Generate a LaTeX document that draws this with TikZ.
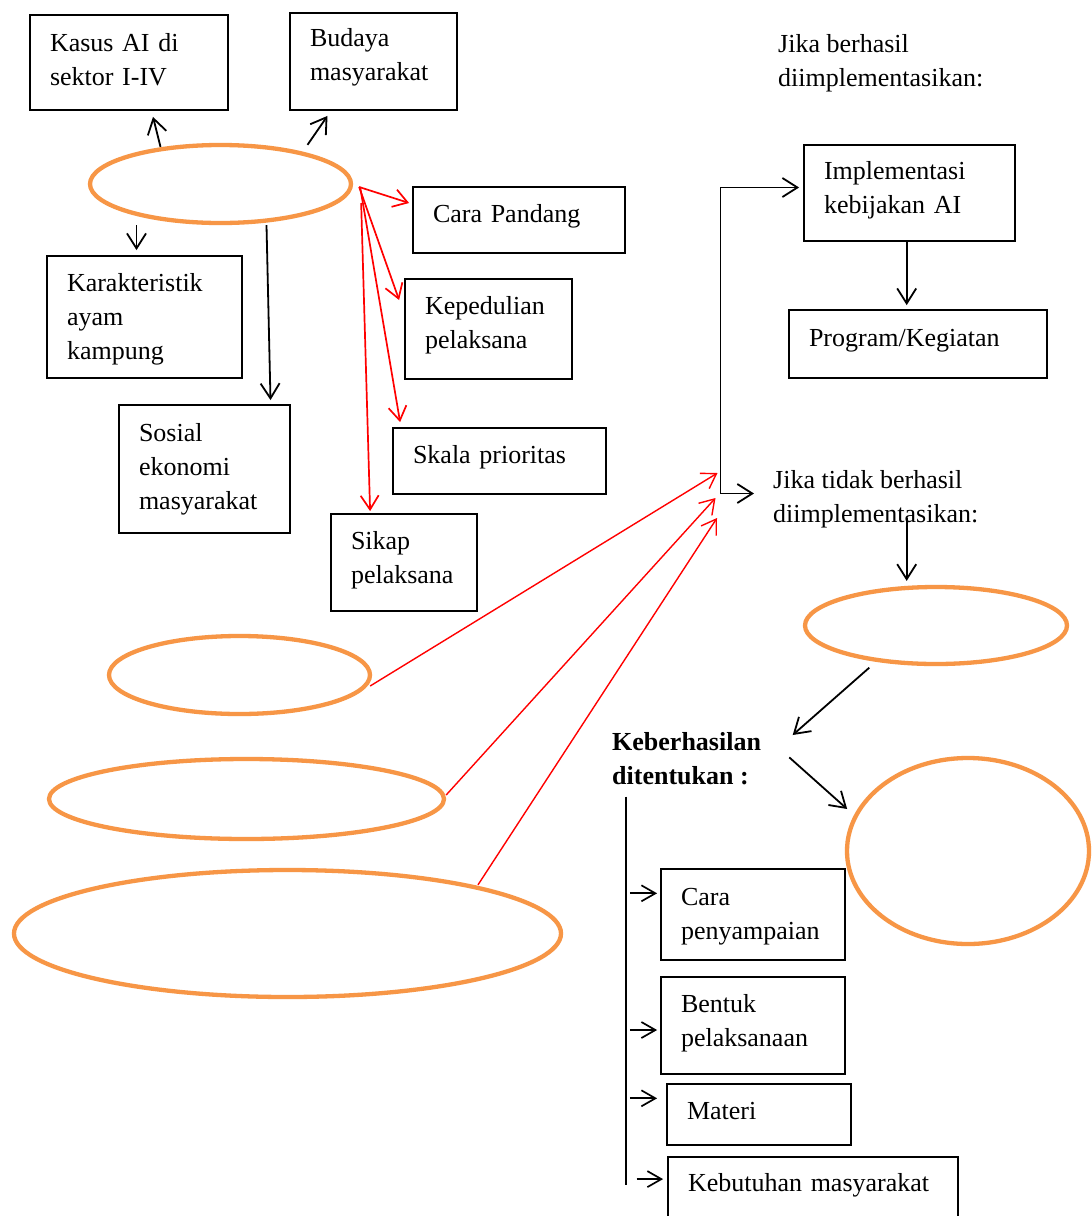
\documentclass[tikz,border=0pt]{standalone}
\usepackage{fontspec}
\setmainfont{Liberation Serif}
\usetikzlibrary{arrows.meta,shapes.geometric,calc}
\definecolor{orng}{HTML}{F79646}
\begin{document}
\begin{tikzpicture}[x=1pt,y=-1pt,
  every node/.style={font=\fontsize{26}{34}\selectfont},
  box/.style={draw, line width=1.8pt, inner xsep=20pt, inner ysep=0pt, align=left},
  oval/.style={ellipse, draw=orng, line width=4.3pt, inner sep=0pt},
  lbl/.style={anchor=north west, inner sep=0pt, align=left},
  blk/.style={line width=1.8pt, -{Straight Barb[length=15pt,width=19pt]}},
  sarr/.style={line width=1.7pt, -{Straight Barb[length=14pt,width=16pt]}},
  redarr/.style={red, line width=1.7pt, -{Straight Barb[length=14pt,width=18pt]}},
  redln/.style={red, line width=1.4pt, -{Straight Barb[length=14pt,width=18pt]}}]
\fill[white] (0,0) rectangle (1092,1216);
\useasboundingbox (0,0) rectangle (1092,1216);
\clip (0,0) rectangle (1092,1216);

% boxes
\node[box, minimum width=198, minimum height=95, text width=158, text depth=40pt] (kasus) at (129,62.5) {Kasus AI di\\sektor I-IV};
\node[box, minimum width=167, minimum height=97, text width=127, text depth=47.6pt] (budaya) at (373.5,61.5) {Budaya\\masyarakat};
\node[box, minimum width=212, minimum height=66, text width=172, text depth=13pt] (cara) at (519,220) {Cara Pandang};
\node[box, minimum width=167, minimum height=100, text width=127, text depth=47.6pt] (kep) at (488.5,329) {Kepedulian\\pelaksana};
\node[box, minimum width=213, minimum height=66, text width=173, text depth=13pt] (skala) at (499.5,461) {Skala prioritas};
\node[box, minimum width=146, minimum height=97, text width=106, text depth=43.6pt] (sikap) at (404,562.5) {Sikap\\pelaksana};
\node[box, minimum width=195, minimum height=122, text width=155, text depth=69.6pt] (karak) at (144.5,317) {Karakteristik\\ayam\\kampung};
\node[box, minimum width=171, minimum height=128, text width=131] (sosial) at (204.5,469) {Sosial\\ekonomi\\masyarakat};
\node[box, minimum width=211, minimum height=96, text width=171, text depth=45.6pt] (impl) at (909.5,193) {Implementasi\\kebijakan AI};
\node[box, minimum width=258, minimum height=68, text width=218, text depth=13pt] (prog) at (918,344) {Program/Kegiatan};
\node[box, minimum width=184, minimum height=91, text width=144, text depth=35.6pt] (cp) at (753,914.5) {Cara\\penyampaian};
\node[box, minimum width=184, minimum height=97, text width=144, text depth=43.6pt] (bentuk) at (753,1025.5) {Bentuk\\pelaksanaan};
\node[box, minimum width=184, minimum height=61, text width=144, text depth=8pt] (materi) at (759,1114.5) {Materi};
\node[box, minimum width=290, minimum height=62, text width=250, text depth=12pt] (keb) at (813,1188) {Kebutuhan masyarakat};

% ovals
\node[oval, minimum width=261, minimum height=78] (e1) at (220.5,184) {};
\node[oval, minimum width=261, minimum height=78] (e2) at (239.5,675) {};
\node[oval, minimum width=395, minimum height=80] (e3) at (246.5,799) {};
\node[oval, minimum width=547, minimum height=127] (e4) at (287.5,933.5) {};
\node[oval, minimum width=262, minimum height=77] (e5) at (936,625.5) {};
\node[oval, minimum width=242, minimum height=186] (e6) at (968,851) {};

% labels
\node[lbl] (berhasil) at (778,34) {Jika berhasil\\diimplementasikan:};
\node[lbl] (tidak) at (773,470) {Jika tidak berhasil\\diimplementasikan:};
\node[lbl, font=\fontsize{26}{34}\selectfont\bfseries] (keber) at (612,732.4) {Keberhasilan\\ditentukan :};

% black connectors from top oval
\draw[blk] ($(e1.north)+(-60,4)$) -- ($(kasus.south)+(24,6)$);
\draw[blk] ($(e1.north)+(87,2)$) -- ($(budaya.south)+(-46,5)$);
\draw[blk] ($(e1.south)+(-84,0)$) -- ($(karak.north)+(-8,-5)$);
\draw[blk] ($(e1.south)+(46,0)$) -- ($(sosial.north)+(66,-4)$);

% red connectors from top oval
\draw[redarr] ($(e1.east)+(6,3)$) -- ($(cara.west)+(-3,-17)$);
\draw[redarr] ($(e1.east)+(6,3)$) -- ($(kep.west)+(-5,-29)$);
\draw[redarr] ($(e1.east)+(7,3)$) -- ($(skala.north west)+(8,-5)$);
\draw[redarr] ($(e1.east)+(8,19)$) -- ($(sikap.north west)+(40,-2)$);

% junction bracket
\coordinate (jtop) at (720.5,187.5);
\coordinate (jbot) at (720.5,493.5);
\coordinate (ktip) at (754,493.5);
\draw[line width=1.8pt, {Straight Barb[length=15pt,width=19pt]}-{Straight Barb[length=15pt,width=19pt]}]
  ($(impl.west)+(-4,-5.5)$) -- (jtop) -- (jbot) -- (ktip);

% red connectors from lower ovals
\draw[redln] ($(e2.east)+(-2,11)$) -- ($(jbot)+(-3,-20.5)$);
\draw[redln] ($(e3.east)+(0,-4)$) -- ($(jbot)+(-5,4.5)$);
\draw[redln] ($(e4.north)+(190.5,17)$) -- ($(jbot)+(-3.5,24.5)$);

% right column
\draw[blk] ($(impl.south)+(-2.8,0)$) -- ($(prog.north)+(-11.3,-4)$);
\draw[blk] ($(tidak.north west)+(133.7,48)$) -- ($(e5.north)+(-29.3,-4)$);
\draw[blk] ($(e5.south)+(-66.7,1.5)$) -- ($(keber.north west)+(180.7,2.6)$);
\draw[blk] ($(keber.north west)+(177.3,25)$) -- ($(e6.west)+(2.3,-42)$);

% list line and small arrows
\coordinate (ltop) at ($(keber.north west)+(13.7,64.3)$);
\coordinate (lbot) at ($(ltop)+(0,388.3)$);
\draw[line width=1.8pt] (ltop) -- (lbot);
\draw[sarr] ($(cp.west)+(-30.3,-21.2)$) -- ($(cp.west)+(-3,-21.2)$);
\draw[sarr] ($(bentuk.west)+(-30.3,4.5)$) -- ($(bentuk.west)+(-3,4.5)$);
\draw[sarr] ($(materi.west)+(-36.3,-16.2)$) -- ($(materi.west)+(-9,-16.2)$);
\draw[sarr] ($(keb.north west)+(-30.6,23)$) -- ($(keb.north west)+(-4,23)$);
\end{tikzpicture}
\end{document}
